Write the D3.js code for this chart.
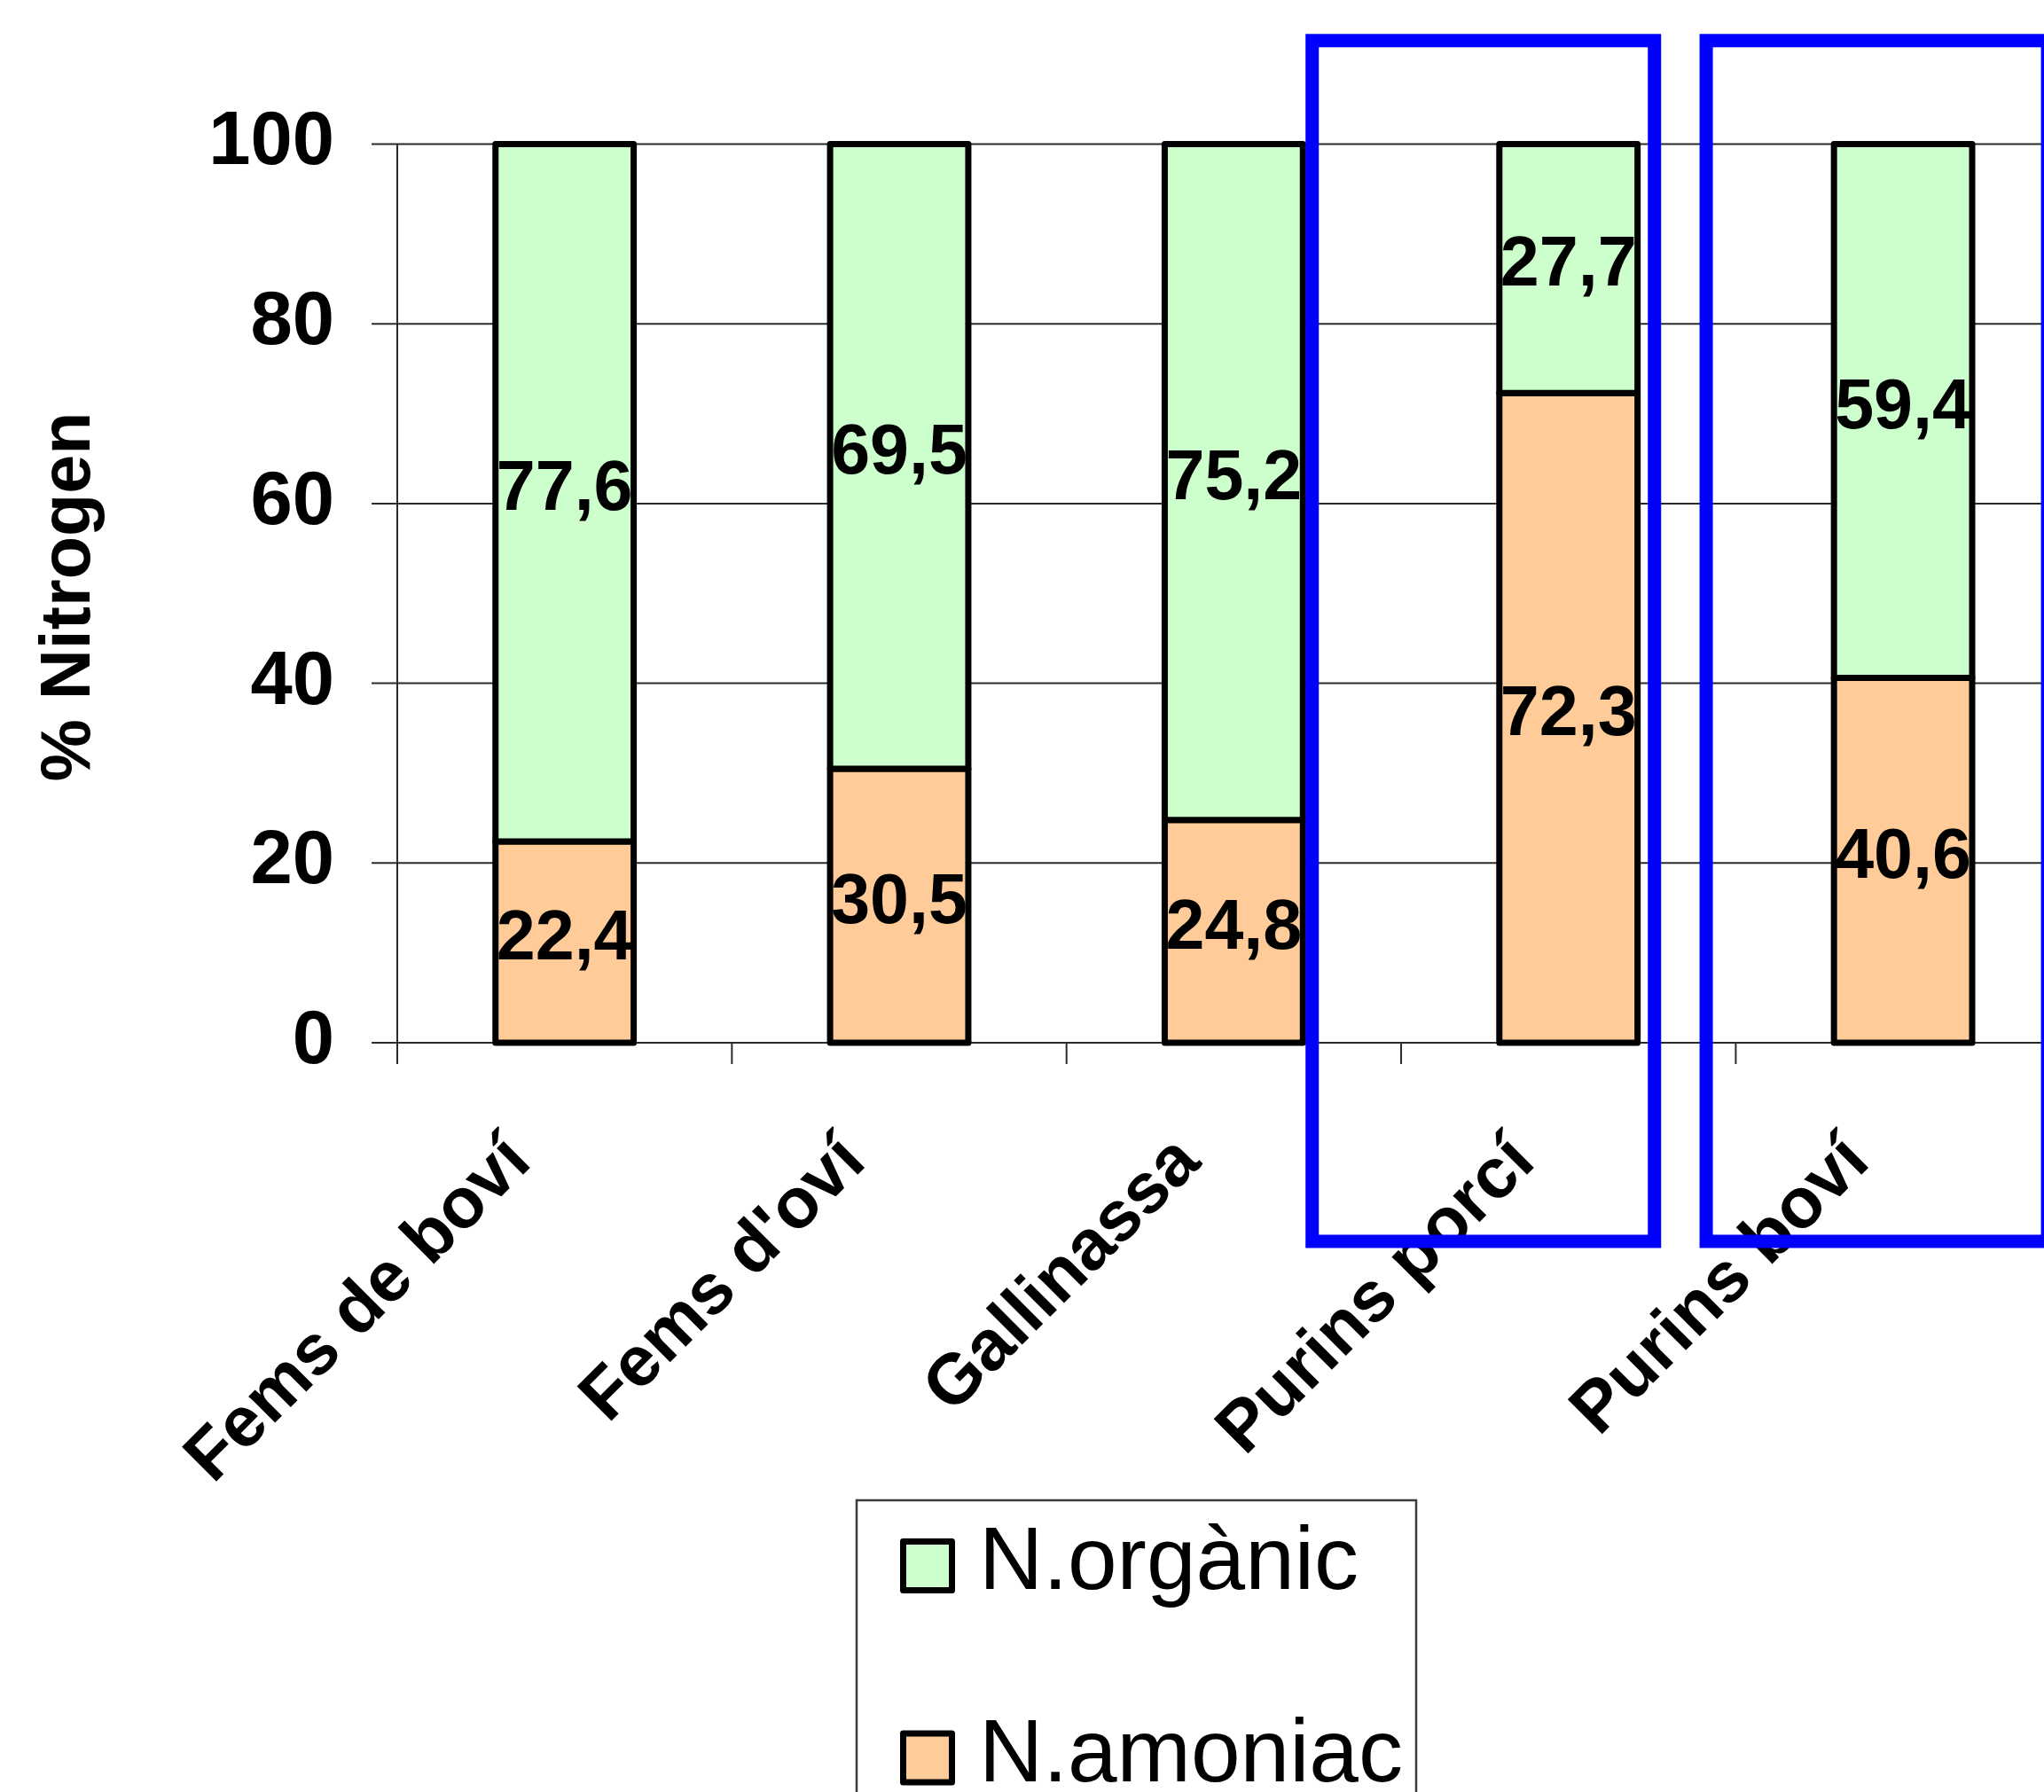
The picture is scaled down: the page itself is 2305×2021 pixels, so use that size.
<!DOCTYPE html>
<html>
<head>
<meta charset="utf-8">
<script src="https://cdn.jsdelivr.net/npm/d3@7/dist/d3.min.js"></script>
<style>
  html, body { margin: 0; padding: 0; background: #fff; overflow: hidden; }
  svg { display: block; }
</style>
</head>
<body>
<script>
// ---------- data ----------
const categories = ["Fems de boví", "Fems d'oví", "Gallinassa", "Purins porcí", "Purins boví"];
const amoniac = [22.4, 30.5, 24.8, 72.3, 40.6];
const organic = [77.6, 69.5, 75.2, 27.7, 59.4];
const yTickValues = [0, 20, 40, 60, 80, 100];
const seriesNames = ["N.orgànic", "N.amoniac"];
const yTitle = "% Nitrogen";
const highlighted = ["Purins porcí", "Purins boví"];

// ---------- styles ----------
const W = 2305, H = 2021;
const FONT = "'Liberation Sans', Arial, Helvetica, sans-serif";
const colOrganic = "#CCFFCC";
const colAmoniac = "#FFCC99";
const barStroke = 7;

const svg = d3.select("body").append("svg")
  .attr("width", W).attr("height", H)
  .attr("viewBox", `0 0 ${W} ${H}`);

svg.append("rect").attr("width", W).attr("height", H).attr("fill", "#fff");

// ---------- scales ----------
const y = d3.scaleLinear().domain([0, 100]).range([1176, 162.5]);
const pad = 0.587;
const x = d3.scaleBand().domain(categories)
  .range([448, 448 + 5 * 377.35])
  .paddingInner(pad).paddingOuter(pad / 2);
const step = x.step();
const xStart = x.range()[0];

// ---------- grid & axes ----------
const grid = svg.append("g");
grid.selectAll("line.grid").data(yTickValues).join("line")
  .attr("x1", xStart - 29).attr("x2", W + 10)
  .attr("y1", d => y(d)).attr("y2", d => y(d))
  .attr("stroke", "#2a2a2a").attr("stroke-width", 2);

grid.append("line")
  .attr("x1", xStart).attr("x2", xStart)
  .attr("y1", y(100)).attr("y2", y(0) + 24)
  .attr("stroke", "#2a2a2a").attr("stroke-width", 2);

grid.selectAll("line.xt").data(d3.range(categories.length + 1)).join("line")
  .attr("x1", i => xStart + i * step).attr("x2", i => xStart + i * step)
  .attr("y1", y(0)).attr("y2", y(0) + 24)
  .attr("stroke", "#2a2a2a").attr("stroke-width", 2);

// y tick labels
svg.append("g").selectAll("text").data(yTickValues).join("text")
  .attr("x", 377).attr("y", d => y(d)).attr("dy", "0.27em")
  .attr("text-anchor", "end")
  .attr("font-family", FONT).attr("font-weight", "bold").attr("font-size", 85)
  .attr("fill", "#000")
  .text(d => d);

// y title
svg.append("text")
  .attr("transform", `translate(101,673) rotate(-90)`)
  .attr("text-anchor", "middle")
  .attr("font-family", FONT).attr("font-weight", "bold").attr("font-size", 79)
  .attr("fill", "#000")
  .text(yTitle);

// ---------- bars ----------
const rows = categories.map((c, i) => ({ c, am: amoniac[i], org: organic[i] }));
const bars = svg.append("g");
bars.selectAll("rect.am").data(rows).join("rect")
  .attr("x", d => x(d.c)).attr("width", x.bandwidth())
  .attr("y", d => y(d.am)).attr("height", d => y(0) - y(d.am))
  .attr("fill", colAmoniac).attr("stroke", "#000")
  .attr("stroke-width", barStroke).attr("stroke-linejoin", "round");
bars.selectAll("rect.org").data(rows).join("rect")
  .attr("x", d => x(d.c)).attr("width", x.bandwidth())
  .attr("y", d => y(d.am + d.org)).attr("height", d => y(d.am) - y(d.am + d.org))
  .attr("fill", colOrganic).attr("stroke", "#000")
  .attr("stroke-width", barStroke).attr("stroke-linejoin", "round");

const fmt = v => d3.format(".1f")(v).replace(".", ",");
const labels = svg.append("g")
  .attr("font-family", FONT).attr("font-weight", "bold").attr("font-size", 79)
  .attr("text-anchor", "middle").attr("fill", "#000");
labels.selectAll("text.am").data(rows).join("text")
  .attr("x", d => x(d.c) + x.bandwidth() / 2)
  .attr("y", d => y(d.am / 2)).attr("dy", "0.245em")
  .text(d => fmt(d.am));
labels.selectAll("text.org").data(rows).join("text")
  .attr("x", d => x(d.c) + x.bandwidth() / 2)
  .attr("y", d => y(d.am + d.org / 2)).attr("dy", "0.245em")
  .text(d => fmt(d.org));

// ---------- x labels ----------
svg.append("g")
  .selectAll("text").data(categories).join("text")
  .attr("transform", d => `translate(${x(d) + x.bandwidth() / 2 - 35},1313) rotate(-45)`)
  .attr("text-anchor", "end")
  .attr("font-family", FONT).attr("font-weight", "bold").attr("font-size", 80)
  .attr("fill", "#000")
  .text(d => d);

// ---------- legend ----------
const legend = svg.append("g");
legend.append("rect")
  .attr("x", 966).attr("y", 1692).attr("width", 631).attr("height", 420)
  .attr("fill", "#fff").attr("stroke", "#3a3a3a").attr("stroke-width", 2.5);
const legItems = [
  { name: seriesNames[0], color: colOrganic },
  { name: seriesNames[1], color: colAmoniac }
];
const li = legend.selectAll("g.item").data(legItems).join("g")
  .attr("transform", (d, i) => `translate(0,${i * 216.5})`);
li.append("rect")
  .attr("x", 1018.5).attr("y", 1738.5).attr("width", 55).attr("height", 55)
  .attr("fill", d => d.color).attr("stroke", "#000")
  .attr("stroke-width", 7).attr("stroke-linejoin", "round");
li.append("text")
  .attr("x", 1104).attr("y", 1792)
  .attr("font-family", FONT).attr("font-size", 100).attr("fill", "#000")
  .text(d => d.name);

// ---------- highlight boxes (annotation) ----------
const boxSpecs = [
  { cat: highlighted[0], left: -289, right: 97 },
  { cat: highlighted[1], left: -222, right: 163 }
];
svg.append("g").selectAll("rect").data(boxSpecs).join("rect")
  .attr("x", d => x(d.cat) + x.bandwidth() / 2 + d.left)
  .attr("width", d => d.right - d.left)
  .attr("y", 45.8).attr("height", 1400 - 45.8)
  .attr("fill", "none").attr("stroke", "#0000FF").attr("stroke-width", 15);
</script>
</body>
</html>
